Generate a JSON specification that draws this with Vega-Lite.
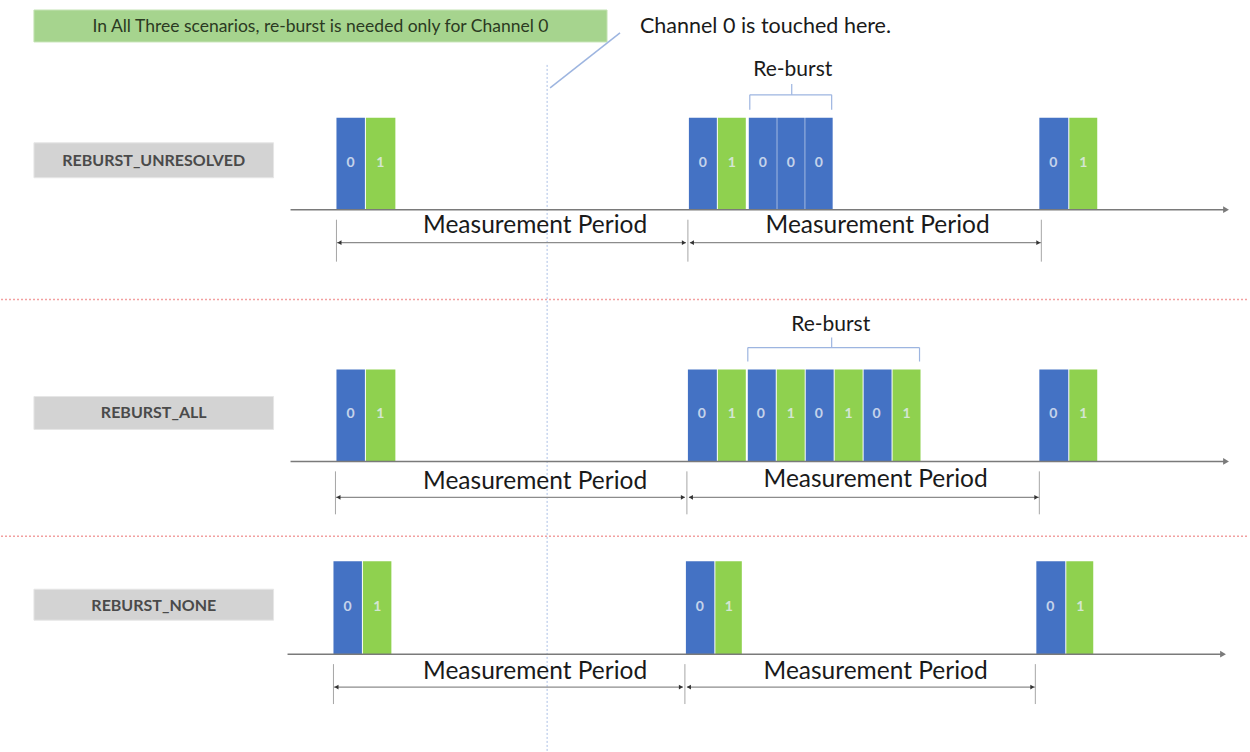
{
  "$schema": "https://vega.github.io/schema/vega-lite/v6.json",
  "width": 1250,
  "height": 752,
  "autosize": {"type": "fit", "contains": "padding"},
  "padding": 0,
  "background": "white",
  "config": {"view": {"stroke": null}},
  "datasets": {
    "boxes": [
      {"x": 33, "x2": 607, "y": 10, "y2": 42, "k": "note"},
      {"x": 33, "x2": 273, "y": 143, "y2": 178, "k": "label"},
      {"x": 33, "x2": 273, "y": 397, "y2": 430, "k": "label"},
      {"x": 33, "x2": 273, "y": 590, "y2": 621, "k": "label"}
    ],
    "blocks": [
      {"x": 336, "x2": 364.5, "xm": 350, "y": 118, "y2": 210, "ym": 163, "ch": "0"},
      {"x": 365.5, "x2": 395, "xm": 380, "y": 118, "y2": 210, "ym": 163, "ch": "1"},
      {"x": 689, "x2": 717, "xm": 703, "y": 118, "y2": 210, "ym": 163, "ch": "0"},
      {"x": 718, "x2": 746, "xm": 732, "y": 118, "y2": 210, "ym": 163, "ch": "1"},
      {"x": 749, "x2": 777, "xm": 763, "y": 118, "y2": 210, "ym": 163, "ch": "0"},
      {"x": 777.5, "x2": 805, "xm": 791, "y": 118, "y2": 210, "ym": 163, "ch": "0"},
      {"x": 805.5, "x2": 833, "xm": 819, "y": 118, "y2": 210, "ym": 163, "ch": "0"},
      {"x": 1040, "x2": 1069, "xm": 1054, "y": 118, "y2": 210, "ym": 163, "ch": "0"},
      {"x": 1070, "x2": 1098, "xm": 1084, "y": 118, "y2": 210, "ym": 163, "ch": "1"},
      {"x": 336, "x2": 364.5, "xm": 350, "y": 370, "y2": 462, "ym": 415, "ch": "0"},
      {"x": 365.5, "x2": 395, "xm": 380, "y": 370, "y2": 462, "ym": 415, "ch": "1"},
      {"x": 688, "x2": 717, "xm": 702, "y": 370, "y2": 462, "ym": 415, "ch": "0"},
      {"x": 718, "x2": 746, "xm": 732, "y": 370, "y2": 462, "ym": 415, "ch": "1"},
      {"x": 748, "x2": 776, "xm": 761, "y": 370, "y2": 462, "ym": 415, "ch": "0"},
      {"x": 777, "x2": 805, "xm": 791, "y": 370, "y2": 462, "ym": 415, "ch": "1"},
      {"x": 806, "x2": 834, "xm": 819, "y": 370, "y2": 462, "ym": 415, "ch": "0"},
      {"x": 835, "x2": 863, "xm": 849, "y": 370, "y2": 462, "ym": 415, "ch": "1"},
      {"x": 864, "x2": 892, "xm": 877, "y": 370, "y2": 462, "ym": 415, "ch": "0"},
      {"x": 893, "x2": 921, "xm": 907, "y": 370, "y2": 462, "ym": 415, "ch": "1"},
      {"x": 1040, "x2": 1069, "xm": 1054, "y": 370, "y2": 462, "ym": 415, "ch": "0"},
      {"x": 1070, "x2": 1098, "xm": 1084, "y": 370, "y2": 462, "ym": 415, "ch": "1"},
      {"x": 333, "x2": 361.5, "xm": 347, "y": 562, "y2": 655, "ym": 608, "ch": "0"},
      {"x": 362.5, "x2": 391, "xm": 377, "y": 562, "y2": 655, "ym": 608, "ch": "1"},
      {"x": 686, "x2": 714.5, "xm": 700, "y": 562, "y2": 655, "ym": 608, "ch": "0"},
      {"x": 715.5, "x2": 742, "xm": 729, "y": 562, "y2": 655, "ym": 608, "ch": "1"},
      {"x": 1037, "x2": 1066, "xm": 1051, "y": 562, "y2": 655, "ym": 608, "ch": "0"},
      {"x": 1067, "x2": 1094, "xm": 1081, "y": 562, "y2": 655, "ym": 608, "ch": "1"}
    ],
    "lines": [
      {"x": 0, "x2": 1250, "y": 300, "y2": 300, "k": "sep"},
      {"x": 0, "x2": 1250, "y": 537, "y2": 537, "k": "sep"},
      {"x": 547, "x2": 547, "y": 65, "y2": 752, "k": "guide"},
      {"x": 620, "x2": 550, "y": 33, "y2": 88, "k": "pointer"},
      {"x": 290, "x2": 1226, "y": 210, "y2": 210, "k": "axis"},
      {"x": 290, "x2": 1226, "y": 462, "y2": 462, "k": "axis"},
      {"x": 287, "x2": 1223, "y": 655, "y2": 655, "k": "axis"},
      {"x": 336, "x2": 686, "y": 243, "y2": 243, "k": "dim"},
      {"x": 690, "x2": 1042, "y": 243, "y2": 243, "k": "dim"},
      {"x": 336, "x2": 336, "y": 220, "y2": 262, "k": "tick"},
      {"x": 688, "x2": 688, "y": 220, "y2": 262, "k": "tick"},
      {"x": 1042, "x2": 1042, "y": 220, "y2": 262, "k": "tick"},
      {"x": 335, "x2": 685, "y": 498, "y2": 498, "k": "dim"},
      {"x": 689, "x2": 1040, "y": 498, "y2": 498, "k": "dim"},
      {"x": 335, "x2": 335, "y": 472, "y2": 515, "k": "tick"},
      {"x": 687, "x2": 687, "y": 472, "y2": 515, "k": "tick"},
      {"x": 1040, "x2": 1040, "y": 472, "y2": 515, "k": "tick"},
      {"x": 333, "x2": 683, "y": 688, "y2": 688, "k": "dim"},
      {"x": 687, "x2": 1036, "y": 688, "y2": 688, "k": "dim"},
      {"x": 333, "x2": 333, "y": 665, "y2": 705, "k": "tick"},
      {"x": 685, "x2": 685, "y": 665, "y2": 705, "k": "tick"},
      {"x": 1036, "x2": 1036, "y": 665, "y2": 705, "k": "tick"},
      {"x": 750, "x2": 832, "y": 95, "y2": 95, "k": "bracket"},
      {"x": 750, "x2": 750, "y": 95, "y2": 110, "k": "bracket"},
      {"x": 832, "x2": 832, "y": 95, "y2": 110, "k": "bracket"},
      {"x": 792, "x2": 792, "y": 95, "y2": 84, "k": "bracket"},
      {"x": 748, "x2": 920, "y": 348, "y2": 348, "k": "bracket"},
      {"x": 748, "x2": 748, "y": 348, "y2": 362, "k": "bracket"},
      {"x": 920, "x2": 920, "y": 348, "y2": 362, "k": "bracket"},
      {"x": 832, "x2": 832, "y": 348, "y2": 338, "k": "bracket"}
    ],
    "heads": [
      {"x": 1227, "y": 210, "dir": "right", "k": "axis"},
      {"x": 1227, "y": 462, "dir": "right", "k": "axis"},
      {"x": 1224, "y": 655, "dir": "right", "k": "axis"},
      {"x": 339, "y": 243, "dir": "left", "k": "dim"},
      {"x": 684, "y": 243, "dir": "right", "k": "dim"},
      {"x": 692, "y": 243, "dir": "left", "k": "dim"},
      {"x": 1039, "y": 243, "dir": "right", "k": "dim"},
      {"x": 338, "y": 498, "dir": "left", "k": "dim"},
      {"x": 683, "y": 498, "dir": "right", "k": "dim"},
      {"x": 691, "y": 498, "dir": "left", "k": "dim"},
      {"x": 1037, "y": 498, "dir": "right", "k": "dim"},
      {"x": 336, "y": 688, "dir": "left", "k": "dim"},
      {"x": 681, "y": 688, "dir": "right", "k": "dim"},
      {"x": 689, "y": 688, "dir": "left", "k": "dim"},
      {"x": 1033, "y": 688, "dir": "right", "k": "dim"}
    ],
    "texts": [
      {"x": 320, "y": 27, "t": "In All Three scenarios, re-burst is needed only for Channel 0", "k": "note"},
      {"x": 640, "y": 27, "t": "Channel 0 is touched here.", "k": "callout"},
      {"x": 793, "y": 70, "t": "Re-burst", "k": "reburst"},
      {"x": 831, "y": 325, "t": "Re-burst", "k": "reburst"},
      {"x": 153, "y": 161, "t": "REBURST_UNRESOLVED", "k": "label"},
      {"x": 153, "y": 414, "t": "REBURST_ALL", "k": "label"},
      {"x": 153, "y": 607, "t": "REBURST_NONE", "k": "label"},
      {"x": 535, "y": 226, "t": "Measurement Period", "k": "mp"},
      {"x": 878, "y": 226, "t": "Measurement Period", "k": "mp"},
      {"x": 535, "y": 483, "t": "Measurement Period", "k": "mp"},
      {"x": 876, "y": 481, "t": "Measurement Period", "k": "mp"},
      {"x": 535, "y": 673, "t": "Measurement Period", "k": "mp"},
      {"x": 876, "y": 673, "t": "Measurement Period", "k": "mp"}
    ]
  },
  "layer": [
    {
      "data": {"name": "lines"},
      "transform": [{"filter": "datum.k === 'sep'"}],
      "mark": {"type": "rule", "color": "#f2a0a0", "strokeWidth": 1.5, "strokeDash": [2, 2]},
      "encoding": {
        "x": {"field": "x", "type": "quantitative", "scale": {"domain": [0, 1250], "nice": false, "zero": false}, "axis": null},
        "x2": {"field": "x2"},
        "y": {"field": "y", "type": "quantitative", "scale": {"domain": [0, 752], "nice": false, "zero": false, "reverse": true}, "axis": null},
        "y2": {"field": "y2"}
      }
    },
    {
      "data": {"name": "lines"},
      "transform": [{"filter": "datum.k === 'guide'"}],
      "mark": {"type": "rule", "color": "#aabfe6", "strokeWidth": 1, "strokeDash": [2, 2]},
      "encoding": {
        "x": {"field": "x", "type": "quantitative", "axis": null},
        "x2": {"field": "x2"},
        "y": {"field": "y", "type": "quantitative", "axis": null},
        "y2": {"field": "y2"}
      }
    },
    {
      "data": {"name": "boxes"},
      "transform": [{"filter": "datum.k === 'note'"}],
      "mark": {"type": "rect", "fill": "#a6d48e", "stroke": "#c5e3b5", "strokeWidth": 1},
      "encoding": {
        "x": {"field": "x", "type": "quantitative", "axis": null},
        "x2": {"field": "x2"},
        "y": {"field": "y", "type": "quantitative", "axis": null},
        "y2": {"field": "y2"}
      }
    },
    {
      "data": {"name": "boxes"},
      "transform": [{"filter": "datum.k === 'label'"}],
      "mark": {"type": "rect", "fill": "#d3d3d3", "stroke": "#e6e6e6", "strokeWidth": 1},
      "encoding": {
        "x": {"field": "x", "type": "quantitative", "axis": null},
        "x2": {"field": "x2"},
        "y": {"field": "y", "type": "quantitative", "axis": null},
        "y2": {"field": "y2"}
      }
    },
    {
      "data": {"name": "lines"},
      "transform": [{"filter": "datum.k === 'pointer'"}],
      "mark": {"type": "rule", "color": "#9db5e0", "strokeWidth": 1.5},
      "encoding": {
        "x": {"field": "x", "type": "quantitative", "axis": null},
        "x2": {"field": "x2"},
        "y": {"field": "y", "type": "quantitative", "axis": null},
        "y2": {"field": "y2"}
      }
    },
    {
      "data": {"name": "blocks"},
      "mark": {"type": "rect"},
      "encoding": {
        "x": {"field": "x", "type": "quantitative", "axis": null},
        "x2": {"field": "x2"},
        "y": {"field": "y", "type": "quantitative", "axis": null},
        "y2": {"field": "y2"},
        "fill": {"field": "ch", "type": "nominal", "scale": {"domain": ["0", "1"], "range": ["#4472c4", "#8fd14f"]}, "legend": null}
      }
    },
    {
      "data": {"name": "blocks"},
      "mark": {"type": "text", "font": "Lato", "fontSize": 14, "fontWeight": "bold", "color": "#e6ecf5", "opacity": 0.8, "align": "center", "baseline": "middle"},
      "encoding": {
        "x": {"field": "xm", "type": "quantitative", "axis": null},
        "y": {"field": "ym", "type": "quantitative", "axis": null},
        "text": {"field": "ch"}
      }
    },
    {
      "data": {"name": "lines"},
      "transform": [{"filter": "datum.k === 'axis'"}],
      "mark": {"type": "rule", "color": "#7a7a7a", "strokeWidth": 1.5},
      "encoding": {
        "x": {"field": "x", "type": "quantitative", "axis": null},
        "x2": {"field": "x2"},
        "y": {"field": "y", "type": "quantitative", "axis": null},
        "y2": {"field": "y2"}
      }
    },
    {
      "data": {"name": "lines"},
      "transform": [{"filter": "datum.k === 'dim'"}],
      "mark": {"type": "rule", "color": "#8c8c8c", "strokeWidth": 1.2},
      "encoding": {
        "x": {"field": "x", "type": "quantitative", "axis": null},
        "x2": {"field": "x2"},
        "y": {"field": "y", "type": "quantitative", "axis": null},
        "y2": {"field": "y2"}
      }
    },
    {
      "data": {"name": "lines"},
      "transform": [{"filter": "datum.k === 'tick'"}],
      "mark": {"type": "rule", "color": "#a6a6a6", "strokeWidth": 1},
      "encoding": {
        "x": {"field": "x", "type": "quantitative", "axis": null},
        "x2": {"field": "x2"},
        "y": {"field": "y", "type": "quantitative", "axis": null},
        "y2": {"field": "y2"}
      }
    },
    {
      "data": {"name": "lines"},
      "transform": [{"filter": "datum.k === 'bracket'"}],
      "mark": {"type": "rule", "color": "#9db5e0", "strokeWidth": 1.2},
      "encoding": {
        "x": {"field": "x", "type": "quantitative", "axis": null},
        "x2": {"field": "x2"},
        "y": {"field": "y", "type": "quantitative", "axis": null},
        "y2": {"field": "y2"}
      }
    },
    {
      "data": {"name": "heads"},
      "transform": [{"filter": "datum.k === 'axis'"}],
      "mark": {"type": "point", "filled": true, "color": "#7a7a7a", "size": 45, "opacity": 1},
      "encoding": {
        "x": {"field": "x", "type": "quantitative", "axis": null},
        "y": {"field": "y", "type": "quantitative", "axis": null},
        "shape": {"field": "dir", "type": "nominal", "scale": {"domain": ["left", "right"], "range": ["triangle-left", "triangle-right"]}, "legend": null}
      }
    },
    {
      "data": {"name": "heads"},
      "transform": [{"filter": "datum.k === 'dim'"}],
      "mark": {"type": "point", "filled": true, "color": "#333333", "size": 22, "opacity": 1},
      "encoding": {
        "x": {"field": "x", "type": "quantitative", "axis": null},
        "y": {"field": "y", "type": "quantitative", "axis": null},
        "shape": {"field": "dir", "type": "nominal", "scale": {"domain": ["left", "right"], "range": ["triangle-left", "triangle-right"]}, "legend": null}
      }
    },
    {
      "data": {"name": "texts"},
      "transform": [{"filter": "datum.k === 'note'"}],
      "mark": {"type": "text", "font": "Lato", "fontSize": 17.5, "color": "#2b3a22", "align": "center", "baseline": "middle"},
      "encoding": {
        "x": {"field": "x", "type": "quantitative", "axis": null},
        "y": {"field": "y", "type": "quantitative", "axis": null},
        "text": {"field": "t"}
      }
    },
    {
      "data": {"name": "texts"},
      "transform": [{"filter": "datum.k === 'callout'"}],
      "mark": {"type": "text", "font": "Lato", "fontSize": 21.5, "color": "#1a1a1a", "align": "left", "baseline": "middle"},
      "encoding": {
        "x": {"field": "x", "type": "quantitative", "axis": null},
        "y": {"field": "y", "type": "quantitative", "axis": null},
        "text": {"field": "t"}
      }
    },
    {
      "data": {"name": "texts"},
      "transform": [{"filter": "datum.k === 'reburst'"}],
      "mark": {"type": "text", "font": "Lato", "fontSize": 21, "color": "#1a1a1a", "align": "center", "baseline": "middle"},
      "encoding": {
        "x": {"field": "x", "type": "quantitative", "axis": null},
        "y": {"field": "y", "type": "quantitative", "axis": null},
        "text": {"field": "t"}
      }
    },
    {
      "data": {"name": "texts"},
      "transform": [{"filter": "datum.k === 'label'"}],
      "mark": {"type": "text", "font": "Lato", "fontSize": 16, "fontWeight": "bold", "color": "#4a4a4a", "align": "center", "baseline": "middle"},
      "encoding": {
        "x": {"field": "x", "type": "quantitative", "axis": null},
        "y": {"field": "y", "type": "quantitative", "axis": null},
        "text": {"field": "t"}
      }
    },
    {
      "data": {"name": "texts"},
      "transform": [{"filter": "datum.k === 'mp'"}],
      "mark": {"type": "text", "font": "Lato", "fontSize": 24.5, "color": "#1a1a1a", "align": "center", "baseline": "middle"},
      "encoding": {
        "x": {"field": "x", "type": "quantitative", "axis": null},
        "y": {"field": "y", "type": "quantitative", "axis": null},
        "text": {"field": "t"}
      }
    }
  ]
}
